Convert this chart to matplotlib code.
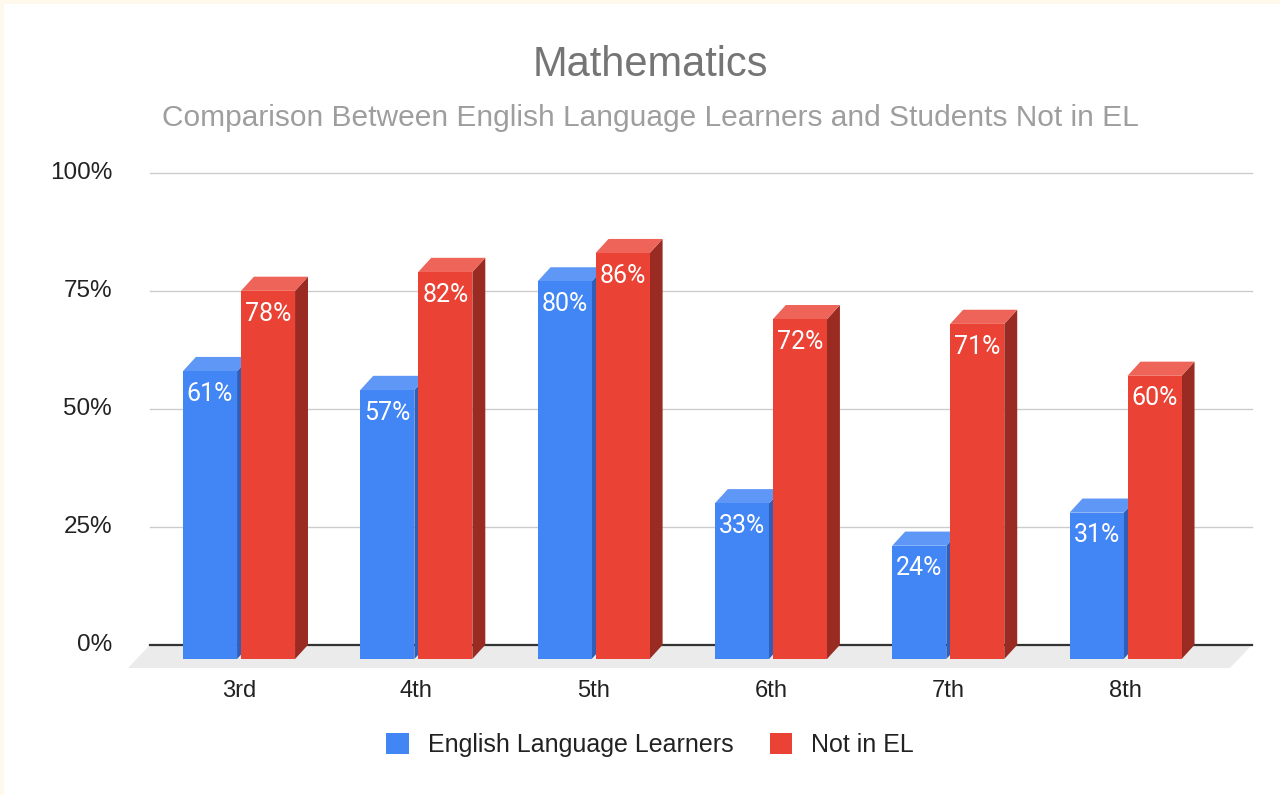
import matplotlib.pyplot as plt
from matplotlib.patches import Polygon, Rectangle, Patch

# data
grades = ["3rd", "4th", "5th", "6th", "7th", "8th"]
el_vals = [61, 57, 80, 33, 24, 31]
not_el_vals = [78, 82, 86, 72, 71, 60]
y_ticks = [0, 25, 50, 75, 100]
series_names = ["English Language Learners", "Not in EL"]

# colours (front, top, side)
blue = ("#4285F4", "#5E97F6", "#2F5FB8")
red = ("#EA4335", "#EE6458", "#9A2B22")

# 3d look
bar_w = 0.305
gap = 0.011
dx = 0.073   # depth in x (category units)
dy = 3.0     # depth in y (percent units)

fig = plt.figure(figsize=(12.8, 7.95), dpi=100)
fig.patch.set_facecolor("#FFF8EC")
ax = fig.add_axes([0, 0, 1, 1])
ax.set_xlim(-1.348, 5.871)
ax.set_ylim(-28.81, 139.62)
ax.axis("off")

# white card
ax.add_patch(Rectangle((0, 0), 1, 1, transform=fig.transFigure, facecolor="white",
                       edgecolor="none", zorder=0))
ax.add_patch(Rectangle((0, 0.995), 1, 0.005, transform=fig.transFigure,
                       facecolor="#FFF8EC", edgecolor="none", zorder=0))
ax.add_patch(Rectangle((0, 0), 0.003, 1, transform=fig.transFigure,
                       facecolor="#FFF8EC", edgecolor="none", zorder=0))

x0, x1 = -0.502, 5.713

# floor
floor = Polygon([(x0, dy), (x1, dy), (x1 - 0.124, -1.9), (x0 - 0.124, -1.9)],
                closed=True, facecolor="#EBEBEB", edgecolor="none", zorder=1)
ax.add_patch(floor)

# gridlines on back wall
for t in y_ticks:
    if t == 0:
        ax.plot([x0, x1], [dy, dy], color="#333333", lw=1.6, zorder=2)
    else:
        ax.plot([x0, x1], [t + dy, t + dy], color="#CCCCCC", lw=1.0, zorder=2)
    ax.text(-0.716, t + dy, f"{t}%", ha="right", va="center", fontsize=17.5,
            family="Liberation Sans", color="#222222", zorder=3)


def bar3d(left, h, cols):
    r = left + bar_w
    side = [(r, 0), (r + dx, dy), (r + dx, h + dy), (r, h)]
    top = [(left, h), (r, h), (r + dx, h + dy), (left + dx, h + dy)]
    ax.add_patch(Polygon(side, closed=True, facecolor=cols[2], edgecolor="none", zorder=4))
    ax.add_patch(Polygon(top, closed=True, facecolor=cols[1], edgecolor="none", zorder=4))
    ax.add_patch(Rectangle((left, 0), bar_w, h, facecolor=cols[0], edgecolor="none", zorder=4))
    ax.text(left + bar_w / 2, h - 4.8, f"{h}%", ha="center", va="center", fontsize=18,
            family="Roboto", color="white", zorder=5)


for i, g in enumerate(grades):
    bar3d(i - gap - bar_w, el_vals[i], blue)
    bar3d(i + gap, not_el_vals[i], red)
    ax.text(i, -6.8, g, ha="center", va="center", fontsize=17,
            family="Liberation Sans", color="#222222")

# titles
fig.text(650 / 1280, 1 - 65 / 795, "Mathematics", ha="center", va="center",
         fontsize=30, family="Liberation Sans", color="#757575")
fig.text(650 / 1280, 1 - 118 / 795,
         "Comparison Between English Language Learners and Students Not in EL",
         ha="center", va="center", fontsize=21.5, family="Liberation Sans", color="#9E9E9E")

handles = [Patch(facecolor=blue[0]), Patch(facecolor=red[0])]
leg = fig.legend(handles, series_names, loc="center", bbox_to_anchor=(650 / 1280, 1 - 745 / 795),
                 ncol=2, frameon=False, prop={"family": "Liberation Sans", "size": 18},
                 handlelength=0.9, handleheight=0.9, handletextpad=0.75, columnspacing=1.45)
for t in leg.get_texts():
    t.set_color("#222222")

fig.savefig("out.png", dpi=100)
